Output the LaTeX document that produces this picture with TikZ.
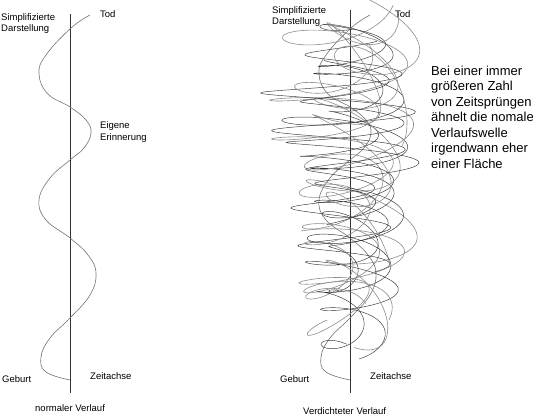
\documentclass[tikz,border=0pt]{standalone}
\usepackage{fontspec}
\setmainfont{Liberation Sans}
\begin{document}
\begin{tikzpicture}[x=1pt,y=-1pt,
    lbl/.style={anchor=base west, inner sep=0pt, font=\fontsize{9.5}{11}\selectfont},
    note/.style={anchor=base west, inner sep=0pt, font=\fontsize{13}{15.5}\selectfont},
    axis/.style={black!80, line width=0.6pt},
    wave/.style={black!55, line width=0.6pt},
    dark/.style={black!80, line width=0.45pt},
    light/.style={black!45, line width=0.6pt}]
  \useasboundingbox (0,0) rectangle (536,415);

  % normaler Verlauf
  \draw[axis] (70,14) -- (70,393);
  \draw[wave] plot[smooth, tension=0.7] coordinates {(90,15) (71,28) (46,55) (39,74)
    (48,94) (70,107) (86,120) (91,133) (84,148) (70,160) (50,178) (39,200) (46,220)
    (70,238) (88,255) (96,273) (90,295) (70,318) (50,338) (41,357) (46,372) (70,380)};

  \node[lbl] (simpL1) at (1,20)  {Simplifizierte};
  \node[lbl] (simpL2) at (1,31)  {Darstellung};
  \node[lbl] (todL)   at (100,17) {Tod};
  \node[lbl] (eigen1) at (100,128) {Eigene};
  \node[lbl] (eigen2) at (100,140) {Erinnerung};
  \node[lbl] (gebL)   at (2,382)  {Geburt};
  \node[lbl] (zeitL)  at (90,379) {Zeitachse};
  \node[lbl] (normal) at (35,411) {normaler Verlauf};

  % verdichteter Verlauf
  \draw[axis] (350,10) -- (350,393);
  \draw[wave, shift={(280,0)}] plot[smooth, tension=0.7] coordinates {(90,15) (71,28) (46,55) (39,74)
    (48,94) (70,107) (86,120) (91,133) (84,148) (70,160) (50,178) (39,200) (46,220)
    (70,238) (88,255) (96,273) (90,295) (70,318) (50,338) (41,357) (46,372) (70,380)};

  % Zeitspruenge
  \foreach \cx/\ax/\by/\yb/\yt/\n/\ph/\tl/\st
      [evaluate=\n as \ns using int(\n*30+1)] in {
      352/62/14/345/15/7/0/0.5/dark,
      345/72/22/320/5/5/90/-0.6/light,
      350/48/10/300/30/6/200/0.3/dark,
      342/80/3/270/40/6/45/0/dark,
      360/50/25/335/20/4/300/1.0/light,
      335/58/18/315/55/5/130/-0.3/light,
      355/38/30/250/0/3/60/0.8/light,
      352/68/5/225/60/4/270/0.2/dark,
      348/55/16/360/200/3/170/0.4/dark,
      372/42/38/110/10/1.5/20/0.6/light,
      340/60/20/330/240/2/240/-0.8/light}
    \draw[\st] plot[smooth, domain=0:\n, samples=\ns]
      ({\cx + \ax*(0.5+0.5*sin(min(90,150*\x/\n)))*(0.75+0.25*sin(97*\x+\ph))*sin(360*\x+\ph)
          + \tl*\by*cos(360*\x+\ph) + 8*sin(133*\x+\ph)},
       {\yb + (\yt-\yb)*\x/\n + \by*(0.8+0.2*cos(151*\x))*cos(360*\x+\ph)});

  \node[lbl] (simpR1) at (272,13)  {Simplifizierte};
  \node[lbl] (simpR2) at (272,24)  {Darstellung};
  \node[lbl] (todR)   at (395,17)  {Tod};
  \node[lbl] (gebR)   at (280,382) {Geburt};
  \node[lbl] (zeitR)  at (370,379) {Zeitachse};
  \node[lbl] (dicht)  at (303,414) {Verdichteter Verlauf};

  \foreach \t [count=\i] in {Bei einer immer, größeren Zahl, von Zeitsprüngen,
      ähnelt die nomale, Verlaufswelle, irgendwann eher, einer Fläche}
    \node[note] (note\i) at (431,{75+15.5*(\i-1)}) {\t};
\end{tikzpicture}
\end{document}
